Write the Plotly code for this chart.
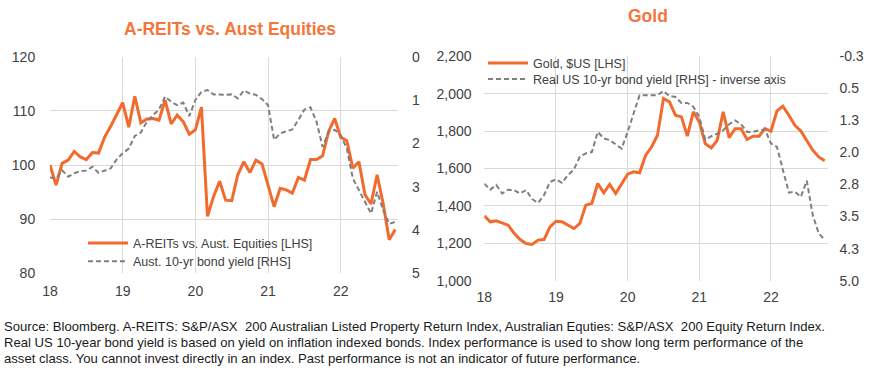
import plotly.graph_objects as go

# ---------------- data ----------------
year_ticks = [0, 12, 24, 36, 48]
year_labels = ["18", "19", "20", "21", "22"]
months = list(range(58))  # Jan-2018 .. Oct-2022

areits_vs_equities = [
    100.0, 96.3, 100.3, 100.9, 102.5, 101.5, 101.0, 102.3, 102.2, 105.1,
    107.1, 109.2, 111.5, 107.0, 112.7, 107.8, 108.5, 108.6, 108.3, 112.0,
    107.6, 109.2, 108.0, 105.7, 106.5, 110.7, 90.5, 94.2, 97.0, 93.5,
    93.4, 98.2, 100.6, 98.6, 100.9, 100.2, 96.3, 92.3, 95.7, 95.4,
    94.8, 97.7, 97.2, 101.0, 101.0, 101.7, 106.2, 108.6, 105.1, 104.5,
    99.4, 100.6, 94.5, 92.8, 98.2, 92.9, 86.2, 88.1,
]
aust_10yr_yield = [
    2.79, 2.81, 2.62, 2.77, 2.69, 2.64, 2.63, 2.54, 2.68, 2.63,
    2.58, 2.37, 2.23, 2.12, 1.83, 1.75, 1.50, 1.35, 1.22, 0.92,
    1.04, 1.12, 1.06, 1.37, 1.00, 0.81, 0.77, 0.87, 0.88, 0.88,
    0.87, 0.96, 0.78, 0.85, 0.88, 0.98, 1.12, 1.92, 1.77, 1.73,
    1.68, 1.46, 1.22, 1.17, 1.50, 2.08, 1.73, 1.69, 1.81, 2.12,
    2.81, 3.08, 3.35, 3.62, 3.12, 3.54, 3.86, 3.81,
]
gold_usd = [
    1347, 1315, 1320, 1309, 1297, 1253, 1220, 1199, 1194, 1217,
    1220, 1288, 1318, 1315, 1297, 1279, 1306, 1404, 1413, 1520,
    1470, 1515, 1466, 1520, 1570, 1582, 1577, 1670, 1715, 1778,
    1974, 1956, 1885, 1876, 1773, 1903, 1849, 1733, 1710, 1751,
    1903, 1765, 1813, 1813, 1755, 1773, 1773, 1813, 1799, 1908,
    1933, 1885, 1831, 1801, 1751, 1698, 1662, 1641,
]
real_us_10yr_yield = [
    2.73, 2.87, 2.76, 2.96, 2.87, 2.88, 2.96, 2.88, 3.09, 3.18,
    3.00, 2.69, 2.63, 2.71, 2.53, 2.40, 2.10, 2.02, 1.99, 1.52,
    1.67, 1.71, 1.81, 1.91, 1.52, 1.09, 0.66, 0.66, 0.66, 0.66,
    0.56, 0.68, 0.70, 0.84, 0.84, 0.93, 1.17, 1.70, 1.62, 1.56,
    1.48, 1.34, 1.25, 1.34, 1.52, 1.52, 1.48, 1.46, 1.79, 1.87,
    2.41, 2.94, 2.92, 3.04, 2.66, 3.47, 3.89, 4.05,
]
rhs_gold_tickvals = [-0.25, 0.5, 1.25, 2.0, 2.75, 3.5, 4.25, 5.0]
rhs_gold_ticktext = ["-0.3", "0.5", "1.3", "2.0", "2.8", "3.5", "4.3", "5.0"]

source_lines = [
    "Source: Bloomberg. A-REITS: S&P/ASX  200 Australian Listed Property Return Index, "
    "Australian Equties: S&P/ASX  200 Equity Return Index.",
    "Real US 10-year bond yield is based on yield on inflation indexed bonds. Index performance "
    "is used to show long term performance of the",
    "asset class. You cannot invest directly in an index. Past performance is not an indicator "
    "of future performance.",
]

# ---------------- style ----------------
W, H = 873, 377
ORANGE = "#F26A2E"
TITLE_ORANGE = "#F4763C"
GREY = "#7F7F7F"
GRID = "#D9D9D9"
TXT = "#404040"
FONT = "Liberation Sans, Arial, sans-serif"

def px_x(p):
    return p / W

def px_y(p):
    return 1 - p / H

fig = go.Figure()

fig.add_trace(go.Scatter(
    x=months, y=areits_vs_equities, mode="lines",
    name="A-REITs vs. Aust. Equities [LHS]",
    line=dict(color=ORANGE, width=3), xaxis="x", yaxis="y", legend="legend"))
fig.add_trace(go.Scatter(
    x=months, y=aust_10yr_yield, mode="lines",
    name="Aust. 10-yr bond yield [RHS]",
    line=dict(color=GREY, width=2, dash="5px,3px"), xaxis="x", yaxis="y2", legend="legend2"))
fig.add_trace(go.Scatter(
    x=months, y=gold_usd, mode="lines",
    name="Gold, $US [LHS]",
    line=dict(color=ORANGE, width=3), xaxis="x2", yaxis="y3", legend="legend3"))
fig.add_trace(go.Scatter(
    x=months, y=real_us_10yr_yield, mode="lines",
    name="Real US 10-yr bond yield [RHS] - inverse axis",
    line=dict(color=GREY, width=2, dash="5px,3px"), xaxis="x2", yaxis="y4", legend="legend4"))

tickfont = dict(family=FONT, size=14, color=TXT)
hidden_tick = "rgba(0,0,0,0)"

xcommon = dict(
    range=[0, 57.5], tickvals=year_ticks, ticktext=year_labels,
    showgrid=False, zeroline=False, showline=False, automargin=False,
    ticks="outside", tickcolor=hidden_tick, tickfont=tickfont,
    minor=dict(tickvals=year_ticks[1:], showgrid=True, gridcolor=GRID, gridwidth=1, ticks=""),
)

def legend_at(x_px, y_px):
    return dict(x=px_x(x_px), y=px_y(y_px), xanchor="left", yanchor="middle",
                bgcolor="rgba(0,0,0,0)", font=dict(family=FONT, size=12.5, color=TXT),
                itemwidth=40, tracegroupgap=0)

fig.update_layout(
    template="none",
    width=W, height=H,
    margin=dict(l=0, r=0, t=0, b=0, autoexpand=False),
    paper_bgcolor="white", plot_bgcolor="white",
    font=dict(family=FONT, color=TXT),
    xaxis=dict(domain=[px_x(50), px_x(398.3)], anchor="y", ticklen=5, **xcommon),
    yaxis=dict(domain=[px_y(273.3), px_y(56.7)], range=[80, 120], dtick=10,
               gridcolor=GRID, gridwidth=1, zeroline=False, showline=False, automargin=False,
               ticks="outside", ticklen=11, tickcolor=hidden_tick, tickfont=tickfont),
    yaxis2=dict(overlaying="y", side="right", anchor="x", range=[5, 0], dtick=1,
                showgrid=False, zeroline=False, showline=False, automargin=False,
                ticks="outside", ticklen=10, tickcolor=hidden_tick, tickfont=tickfont),
    xaxis2=dict(domain=[px_x(484.3), px_x(827.7)], anchor="y3", ticklen=3, **xcommon),
    yaxis3=dict(domain=[px_y(280.7), px_y(56.3)], anchor="x2", range=[1000, 2200], dtick=200,
                tickformat=",", gridcolor=GRID, gridwidth=1, zeroline=False, showline=False,
                automargin=False,
                ticks="outside", ticklen=9, tickcolor=hidden_tick, tickfont=tickfont),
    yaxis4=dict(overlaying="y3", side="right", anchor="x2", range=[5.0, -0.25],
                tickvals=rhs_gold_tickvals, ticktext=rhs_gold_ticktext,
                showgrid=False, zeroline=False, showline=False, automargin=False,
                ticks="outside", ticklen=8, tickcolor=hidden_tick, tickfont=tickfont),
    legend=legend_at(83, 243.3),
    legend2=legend_at(83, 261.7),
    legend3=legend_at(483, 63.3),
    legend4=legend_at(483, 79.3),
    showlegend=True,
)

annotations = [
    dict(text="<b>A-REITs vs. Aust Equities</b>", x=px_x(230), y=px_y(29),
         xref="paper", yref="paper", xanchor="center", yanchor="middle", showarrow=False,
         font=dict(family=FONT, size=17.5, color=TITLE_ORANGE)),
    dict(text="<b>Gold</b>", x=px_x(648), y=px_y(16),
         xref="paper", yref="paper", xanchor="center", yanchor="middle", showarrow=False,
         font=dict(family=FONT, size=17.5, color=TITLE_ORANGE)),
]
for i, line in enumerate(source_lines):
    annotations.append(dict(
        text=line, x=px_x(2), y=px_y(326 + 16 * i), xref="paper", yref="paper",
        xanchor="left", yanchor="middle", align="left", showarrow=False,
        font=dict(family=FONT, size=13.1, color="#1a1a1a")))
fig.update_layout(annotations=annotations)

fig.write_html(
    "out.html",
    config={"displayModeBar": False},
    post_script="document.body.style.margin='0px';document.body.style.overflow='hidden';",
)
